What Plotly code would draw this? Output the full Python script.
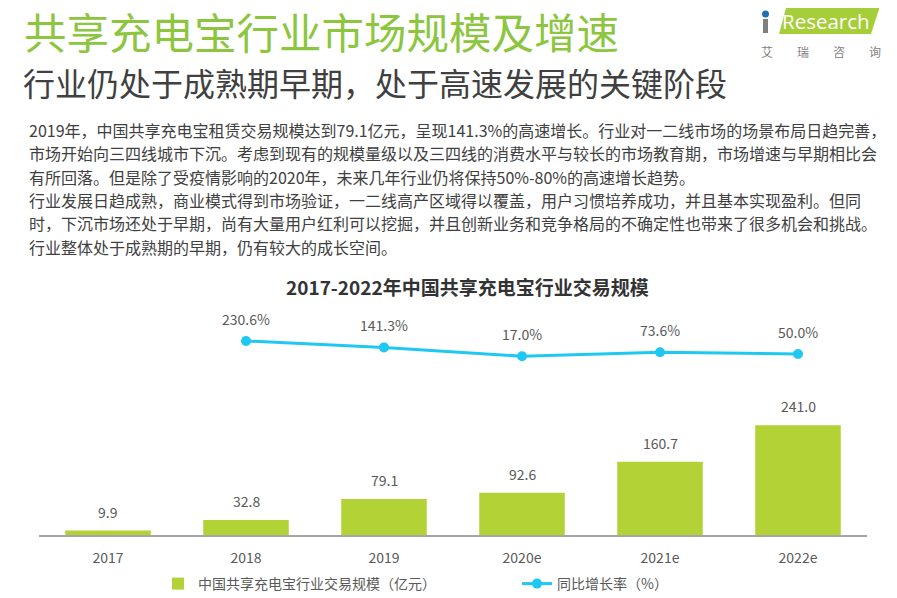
import plotly.graph_objects as go

## DATA

years = ["2017", "2018", "2019", "2020e", "2021e", "2022e"]
scale = [9.9, 32.8, 79.1, 92.6, 160.7, 241.0]          # 亿元
growth_years = ["2018", "2019", "2020e", "2021e", "2022e"]
growth = [230.6, 141.3, 17.0, 73.6, 50.0]               # %

title_main = "共享充电宝行业市场规模及增速"
title_sub = "行业仍处于成熟期早期，处于高速发展的关键阶段"
body_lines = [
    "2019年，中国共享充电宝租赁交易规模达到79.1亿元，呈现141.3%的高速增长。行业对一二线市场的场景布局日趋完善，",
    "市场开始向三四线城市下沉。考虑到现有的规模量级以及三四线的消费水平与较长的市场教育期，市场增速与早期相比会",
    "有所回落。但是除了受疫情影响的2020年，未来几年行业仍将保持50%-80%的高速增长趋势。",
    "行业发展日趋成熟，商业模式得到市场验证，一二线高产区域得以覆盖，用户习惯培养成功，并且基本实现盈利。但同",
    "时，下沉市场还处于早期，尚有大量用户红利可以挖掘，并且创新业务和竞争格局的不确定性也带来了很多机会和挑战。",
    "行业整体处于成熟期的早期，仍有较大的成长空间。",
]
chart_title = "2017-2022年中国共享充电宝行业交易规模"
bar_name = "中国共享充电宝行业交易规模（亿元）"
line_name = "同比增长率（%）"

## STYLE

W, H = 897, 598
OFF = 8   # page margin of the html body
FONT = "Noto Sans CJK SC, Noto Sans, sans-serif"
GREEN_TITLE = "#8CC63F"
BAR_GREEN = "#B2D235"
CYAN = "#1FC8F2"
GREY_TXT = "#595959"
LOGO_GREY = "#7F7F7F"


def py(px):
    # screen pixel row -> paper y
    return 1 - (px - OFF) / H


def px_x(px):
    # screen pixel column -> paper x
    return (px - OFF) / W


## TRACES

trace_bars = go.Bar(x=years, y=scale, name=bar_name,
                    marker=dict(color=BAR_GREEN, line=dict(width=0)),
                    width=0.62, hoverinfo="x+y")

trace_growth = go.Scatter(x=growth_years, y=growth, name=line_name,
                          yaxis="y2", mode="lines+markers",
                          line=dict(color=CYAN, width=3),
                          marker=dict(color=CYAN, size=10),
                          hoverinfo="x+y")

fig = go.Figure(data=[trace_bars, trace_growth])

## ANNOTATIONS

annots = []

# header texts
annots.append(dict(text=title_main, x=px_x(22), y=py(31), xref="paper", yref="paper",
                   xanchor="left", yanchor="middle", showarrow=False,
                   font=dict(family=FONT, size=42.5, color=GREEN_TITLE)))
annots.append(dict(text=title_sub, x=px_x(21), y=py(82), xref="paper", yref="paper",
                   xanchor="left", yanchor="middle", showarrow=False,
                   font=dict(family=FONT, size=32, color="#404040")))

for i, line in enumerate(body_lines):
    annots.append(dict(text=line, x=px_x(27), y=py(130 + i * 23.3), xref="paper", yref="paper",
                       xanchor="left", yanchor="middle", showarrow=False,
                       font=dict(family=FONT, size=16.0, color="#404040")))

annots.append(dict(text="<b>" + chart_title + "</b>", x=px_x(467), y=py(286), xref="paper", yref="paper",
                   xanchor="center", yanchor="middle", showarrow=False,
                   font=dict(family=FONT, size=19, color="#333333")))

# data labels (category axis -> use the category index as position)
for yr, v in zip(years, scale):
    annots.append(dict(text=f"{v:.1f}", x=years.index(yr), y=v, xref="x", yref="y",
                       xanchor="center", yanchor="bottom", yshift=7, showarrow=False,
                       font=dict(family=FONT, size=14, color=GREY_TXT)))
for yr, g in zip(growth_years, growth):
    annots.append(dict(text=f"{g:.1f}%", x=years.index(yr), y=g, xref="x", yref="y2",
                       xanchor="center", yanchor="bottom", yshift=10, showarrow=False,
                       font=dict(family=FONT, size=14, color=GREY_TXT)))

# logo
annots.append(dict(text="Research", x=px_x(826), y=py(21), xref="paper", yref="paper",
                   xanchor="center", yanchor="middle", showarrow=False,
                   font=dict(family="Open Sans, sans-serif", size=20.5, color="white")))
annots.append(dict(text="艾　　瑞　　咨　　询", x=px_x(821), y=py(52), xref="paper", yref="paper",
                   xanchor="center", yanchor="middle", showarrow=False,
                   font=dict(family=FONT, size=12, color=LOGO_GREY)))

## SHAPES

shapes = [
    # logo parallelogram
    dict(type="path", xref="paper", yref="paper",
         path=f"M {px_x(779)} {py(34)} L {px_x(786)} {py(8)} L {px_x(881)} {py(3)} L {px_x(871)} {py(34)} Z",
         fillcolor="#A6CE39", line=dict(width=0), layer="below"),
    # the "i": stem and blue dot
    dict(type="rect", xref="paper", yref="paper",
         x0=px_x(763), x1=px_x(768), y0=py(33), y1=py(19),
         fillcolor=LOGO_GREY, line=dict(width=0)),
    dict(type="circle", xref="paper", yref="paper",
         x0=px_x(762), x1=px_x(769), y0=py(17.5), y1=py(10.5),
         fillcolor="#1F6FB5", line=dict(width=0)),
]

## LAYOUT

fig.update_layout(
    width=W, height=H,
    margin=dict(l=0, r=0, t=0, b=0),
    paper_bgcolor="white", plot_bgcolor="white",
    font=dict(family=FONT, size=14, color=GREY_TXT),
    xaxis=dict(type="category", range=[-0.5, len(years) - 0.5],
               domain=[px_x(39), px_x(867)], showgrid=False, zeroline=False,
               showline=True, linecolor="#A6A6A6", linewidth=2,
               ticks="", tickfont=dict(size=14, color=GREY_TXT), ticklabelstandoff=9),
    yaxis=dict(domain=[py(535), py(330)], range=[0, 450.5], visible=False, showgrid=False),
    yaxis2=dict(domain=[py(535), py(330)], range=[-2479, 384], overlaying="y",
                visible=False, showgrid=False),
    showlegend=True,
    legend=dict(orientation="h", x=px_x(158), y=py(584), xanchor="left", yanchor="middle",
                font=dict(family=FONT, size=14, color=GREY_TXT),
                entrywidth=314, entrywidthmode="pixels", bgcolor="rgba(0,0,0,0)"),
    annotations=annots,
    shapes=shapes,
    hovermode="closest",
)

fig.write_html("out.html")
